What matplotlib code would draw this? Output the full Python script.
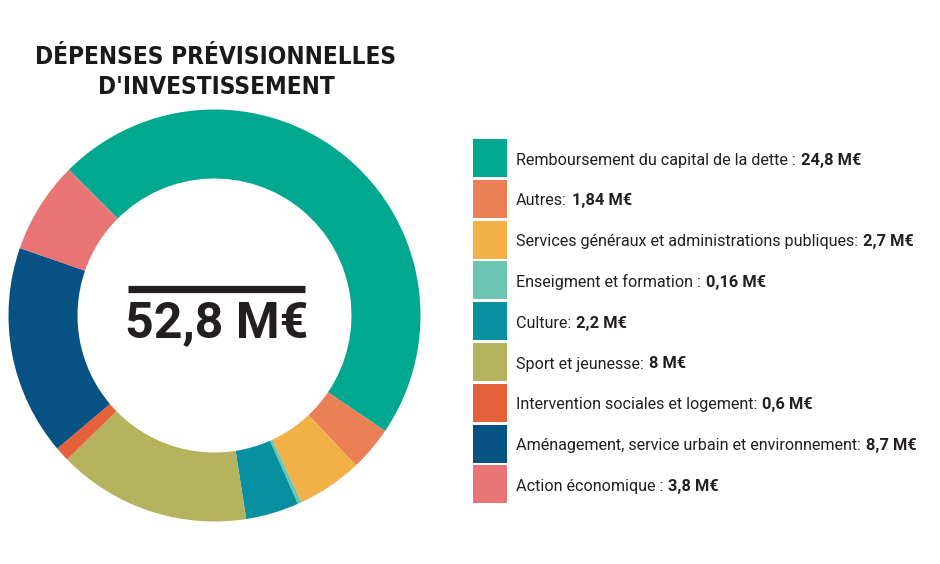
import matplotlib
matplotlib.use("Agg")
import matplotlib.pyplot as plt
from matplotlib.patches import Rectangle

# données (M€)
categories = [
    "Remboursement du capital de la dette :",
    "Autres:",
    "Services généraux et administrations publiques:",
    "Enseigment et formation :",
    "Culture:",
    "Sport et jeunesse:",
    "Intervention sociales et logement:",
    "Aménagement, service urbain et environnement:",
    "Action économique :",
]
valeurs = [24.8, 1.84, 2.7, 0.16, 2.2, 8, 0.6, 8.7, 3.8]
couleurs = ["#00a88f", "#eb7f55", "#f2b046", "#6cc5b0", "#0690a0",
            "#b6b35e", "#e4613a", "#055283", "#e97475"]
titre = "DÉPENSES PRÉVISIONNELLES\nD'INVESTISSEMENT"
total = "52,8 M€"

W, H = 940, 564
fig = plt.figure(figsize=(W / 100, H / 100), dpi=100)


def px(x, y):
    return x / W, 1 - y / H


# donut
cx, cy, r = 214.5, 315.5, 206
ax = fig.add_axes([(cx - r) / W, (H - cy - r) / H, 2 * r / W, 2 * r / H])
ax.pie(valeurs, colors=couleurs, startangle=135, counterclock=False,
       radius=1, wedgeprops=dict(width=0.335, linewidth=0))
ax.set_xlim(-1, 1)
ax.set_ylim(-1, 1)
ax.axis("off")

# total au centre
ax.plot([-0.42, 0.44], [0.127, 0.127], color="#231f20", lw=5.2,
        solid_capstyle="butt")
ax.text(0.01, -0.108, total, ha="center", va="baseline", fontsize=36,
        fontweight="bold", family="Roboto", color="#231f20")

# titre
fig.text(*px(216, 72), titre, ha="center", va="center", fontsize=17.5,
         fontweight="heavy", fontstretch="condensed", family="DejaVu Sans",
         color="#1a1a1a", linespacing=1.35)

# légende
renderer = fig.canvas.get_renderer()
y0, pas, hauteur = 139, 40.8, 38
for i, (cat, val, col) in enumerate(zip(categories, valeurs, couleurs)):
    top = y0 + i * pas
    x1, y1 = px(473, top + hauteur)
    fig.patches.append(Rectangle((x1, y1), 34 / W, hauteur / H,
                                 transform=fig.transFigure, color=col,
                                 linewidth=0))
    ty = px(0, top + hauteur / 2 + 2)[1]
    t = fig.text(516 / W, ty, cat, ha="left", va="center", fontsize=11.6,
                 family="Roboto", color="#231f20")
    bb = t.get_window_extent(renderer)
    s = f"{val:g}".replace(".", ",") + " M€"
    fig.text((bb.x1 + 5) / W, ty, s, ha="left", va="center", fontsize=11.8,
             family="Roboto", fontweight="bold", color="#231f20")

fig.savefig("out.png", dpi=100, facecolor="white")
